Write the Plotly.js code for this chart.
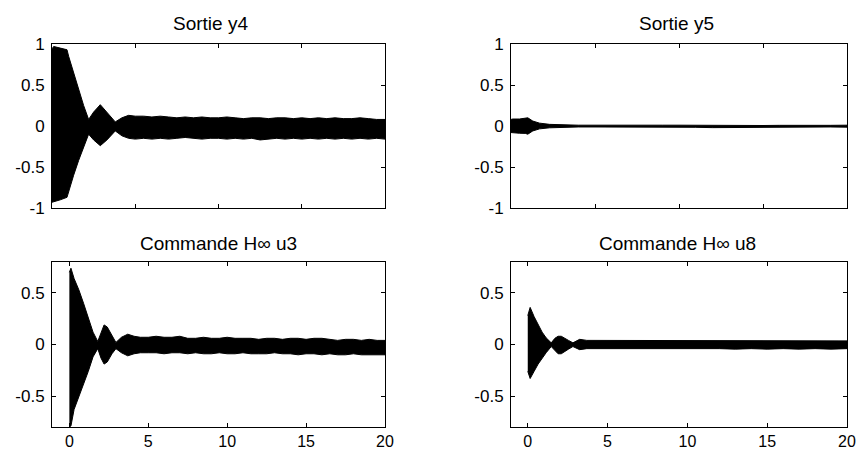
<!DOCTYPE html>
<html>
<head>
<meta charset="utf-8">
<script src="https://cdn.plot.ly/plotly-3.0.1.min.js"></script>
<style>html,body{margin:0;padding:0;background:#fff;}#chart{width:858px;height:450px;}</style>
</head>
<body>
<div id="chart"></div>
<script>
// ---------- data (envelopes of the oscillating responses) ----------
const titles = ["Sortie y4", "Sortie y5", "Commande H\u221e u3", "Commande H\u221e u8"];
const xTicks = [0, 5, 10, 15, 20];
const xTickText = ["0", "5", "10", "15", "20"];
const yTicksTop = [-1, -0.5, 0, 0.5, 1];
const yTickTextTop = ["-1", "-0.5", "0", "0.5", "1"];
const yTicksBottom = [-0.5, 0, 0.5];
const yTickTextBottom = ["-0.5", "0", "0.5"];

// Sortie y4
const tY4 = [0, 0.1, 0.5, 0.9, 1.0, 1.3, 1.6, 1.9, 2.2, 2.5, 2.9, 3.3, 3.8, 4.2, 4.6,
  5, 5.5, 6, 6.5, 7, 7.5, 8, 8.5, 9, 9.5, 10, 10.5, 11, 11.5, 12, 12.5, 13, 13.5, 14, 14.5, 15, 15.5, 16, 16.5, 17, 17.5, 18, 18.5, 19, 19.5, 20];
const upY4 = [0.94, 0.97, 0.95, 0.93, 0.85, 0.64, 0.44, 0.25, 0.08, 0.17, 0.26, 0.17, 0.05, 0.1, 0.13,
  0.12, 0.12, 0.11, 0.12, 0.11, 0.1, 0.11, 0.1, 0.11, 0.1, 0.1, 0.11, 0.1, 0.09, 0.1, 0.1, 0.09, 0.1, 0.1, 0.09, 0.1, 0.09, 0.1, 0.09, 0.1, 0.09, 0.09, 0.1, 0.09, 0.08, 0.08];
const loY4 = [-0.93, -0.92, -0.9, -0.87, -0.8, -0.6, -0.42, -0.25, -0.1, -0.17, -0.24, -0.17, -0.06, -0.12, -0.15,
  -0.16, -0.15, -0.16, -0.15, -0.16, -0.15, -0.14, -0.15, -0.16, -0.15, -0.15, -0.16, -0.15, -0.16, -0.15, -0.17, -0.16, -0.15, -0.16, -0.15, -0.16, -0.15, -0.16, -0.15, -0.16, -0.15, -0.16, -0.15, -0.16, -0.15, -0.16];

// Sortie y5
const tY5 = [0, 0.1, 0.5, 0.85, 1.0, 1.3, 1.7, 2.3, 3.1, 4, 5, 6, 7, 8, 9, 10, 11, 12, 13, 14, 15, 16, 17, 18, 19, 20];
const upY5 = [0.08, 0.085, 0.085, 0.09, 0.1, 0.06, 0.035, 0.02, 0.012, 0.01, 0.01, 0.008, 0.01, 0.008, 0.01, 0.01, 0.008, 0.008, 0.01, 0.008, 0.006, 0.008, 0.006, 0.008, 0.008, 0.01];
const loY5 = [-0.08, -0.088, -0.088, -0.09, -0.1, -0.06, -0.035, -0.022, -0.014, -0.012, -0.012, -0.014, -0.012, -0.014, -0.012, -0.014, -0.016, -0.02, -0.022, -0.014, -0.016, -0.014, -0.012, -0.014, -0.012, -0.014];

// Commande H∞ u3
const tU3 = [0, 0.1, 0.3, 0.6, 0.9, 1.2, 1.5, 1.8, 2.0, 2.2, 2.4, 2.7, 2.95, 3.3, 3.7, 4.1, 4.5,
  5, 5.5, 6, 6.5, 7, 7.5, 8, 8.5, 9, 9.5, 10, 10.5, 11, 11.5, 12, 12.5, 13, 13.5, 14, 14.5, 15, 15.5, 16, 16.5, 17, 17.5, 18, 18.5, 19, 19.5, 20];
const upU3 = [0.7, 0.74, 0.64, 0.53, 0.4, 0.27, 0.12, 0.03, 0.12, 0.19, 0.17, 0.08, 0.02, 0.07, 0.1, 0.08, 0.07,
  0.07, 0.08, 0.07, 0.07, 0.08, 0.06, 0.06, 0.07, 0.06, 0.06, 0.07, 0.06, 0.06, 0.06, 0.05, 0.06, 0.06, 0.05, 0.06, 0.06, 0.05, 0.06, 0.06, 0.05, 0.04, 0.05, 0.05, 0.04, 0.05, 0.04, 0.04];
const loU3 = [-0.8, -0.79, -0.63, -0.5, -0.38, -0.26, -0.12, -0.04, -0.13, -0.19, -0.17, -0.09, -0.04, -0.08, -0.11, -0.09, -0.08,
  -0.08, -0.08, -0.09, -0.08, -0.08, -0.09, -0.08, -0.09, -0.09, -0.08, -0.09, -0.09, -0.08, -0.09, -0.09, -0.09, -0.08, -0.09, -0.09, -0.1, -0.09, -0.09, -0.1, -0.09, -0.1, -0.1, -0.09, -0.1, -0.1, -0.1, -0.1];

// Commande H∞ u8
const tU8 = [0, 0.15, 0.4, 0.65, 0.9, 1.15, 1.47, 1.7, 1.9, 2.1, 2.3, 2.55, 2.83, 3.25, 3.7,
  4, 5, 6, 7, 8, 9, 10, 11, 12, 13, 14, 15, 16, 17, 18, 19, 20];
const upU8 = [0.28, 0.36, 0.27, 0.19, 0.12, 0.065, 0.016, 0.06, 0.08, 0.08, 0.065, 0.04, 0.016, 0.05, 0.04,
  0.04, 0.035, 0.04, 0.035, 0.04, 0.035, 0.04, 0.035, 0.04, 0.035, 0.04, 0.04, 0.035, 0.04, 0.035, 0.04, 0.035];
const loU8 = [-0.26, -0.33, -0.26, -0.19, -0.13, -0.08, -0.02, -0.06, -0.09, -0.09, -0.07, -0.045, -0.02, -0.05, -0.04,
  -0.045, -0.04, -0.045, -0.04, -0.045, -0.04, -0.045, -0.04, -0.04, -0.045, -0.04, -0.045, -0.04, -0.045, -0.04, -0.045, -0.04];

// ---------- layout helpers ----------
const W = 858, H = 450;
const px = v => v / W;
const py = v => 1 - v / H;

function band(t, up, lo, xa, ya) {
  const xs = t.concat(t.slice().reverse());
  const ys = up.concat(lo.slice().reverse());
  return {
    x: xs, y: ys, xaxis: xa, yaxis: ya, type: 'scatter', mode: 'lines',
    fill: 'toself', fillcolor: '#000', line: {color: '#000', width: 1},
    hoverinfo: 'skip', showlegend: false
  };
}

const data = [
  band(tY4, upY4, loY4, 'x', 'y'),
  band(tY5, upY5, loY5, 'x2', 'y2'),
  band(tU3, upU3, loU3, 'x3', 'y3'),
  band(tU8, upU8, loU8, 'x4', 'y4')
];

const FAM = 'Liberation Sans, Arial, sans-serif';
const xFont = {family: FAM, size: 16, color: '#000'};
const yFont = {family: FAM, size: 17, color: '#000'};

function xAxis(dom, anchor, range, labels) {
  return {
    domain: dom, anchor: anchor, range: range, showgrid: false, zeroline: false,
    showline: true, linecolor: '#000', linewidth: 1, mirror: 'ticks',
    ticks: 'inside', ticklen: 4, tickcolor: '#000', tickmode: 'array',
    tickvals: xTicks, ticktext: xTickText, showticklabels: labels, tickfont: xFont,
    ticklabelstandoff: 0
  };
}
function yAxis(dom, anchor, range, vals, text) {
  return {
    domain: dom, anchor: anchor, range: range, showgrid: false, zeroline: false,
    showline: true, linecolor: '#000', linewidth: 1, mirror: 'ticks',
    ticks: 'inside', ticklen: 4, tickcolor: '#000', tickmode: 'array',
    tickvals: vals, ticktext: text, tickfont: yFont, ticklabelstandoff: 3
  };
}

const xL = [px(52), px(385)], xR = [px(511), px(847)];
const yT = [py(208), py(44)], yB = [py(427), py(262)];

const layout = {
  width: W, height: H, margin: {l: 0, r: 0, t: 0, b: 0},
  paper_bgcolor: '#fff', plot_bgcolor: '#fff', showlegend: false,
  xaxis: xAxis(xL, 'y', [0, 20], false),
  yaxis: yAxis(yT, 'x', [-1, 1], yTicksTop, yTickTextTop),
  xaxis2: xAxis(xR, 'y2', [0, 20], false),
  yaxis2: yAxis(yT, 'x2', [-1, 1], yTicksTop, yTickTextTop),
  xaxis3: xAxis(xL, 'y3', [-1.1, 20], true),
  yaxis3: yAxis(yB, 'x3', [-0.8, 0.8], yTicksBottom, yTickTextBottom),
  xaxis4: xAxis(xR, 'y4', [-1.05, 20], true),
  yaxis4: yAxis(yB, 'x4', [-0.8, 0.8], yTicksBottom, yTickTextBottom),
  annotations: [
    {text: titles[0], x: px(210), y: py(23)},
    {text: titles[1], x: px(676), y: py(23)},
    {text: titles[2], x: px(218), y: py(243)},
    {text: titles[3], x: px(677), y: py(243)}
  ].map(a => Object.assign(a, {xref: 'paper', yref: 'paper', xanchor: 'center', yanchor: 'middle',
    showarrow: false, font: {family: FAM, size: 19, color: '#000'}}))
};

Plotly.newPlot('chart', data, layout, {staticPlot: true, displayModeBar: false});
</script>
</body>
</html>
